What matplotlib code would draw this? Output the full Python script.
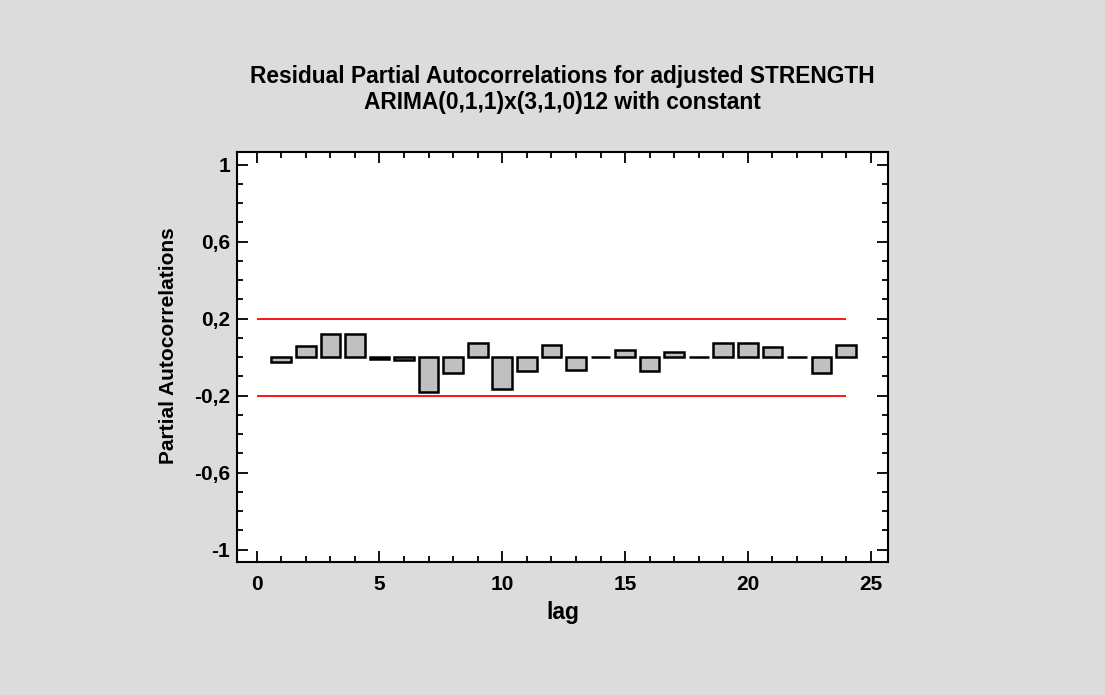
import numpy as np
import matplotlib.pyplot as plt
from matplotlib.ticker import MultipleLocator, FuncFormatter

# residual partial autocorrelations
lags = list(range(1, 25))
pacf = [-0.026, 0.057, 0.12, 0.12, -0.008, -0.015, -0.18, -0.081,
        0.073, -0.163, -0.071, 0.065, -0.064, 0.001, 0.036, -0.073,
        0.029, 0.001, 0.073, 0.073, 0.055, 0.001, -0.081, 0.066]
limite = 0.2  # 95% probability limits

plt.rcParams['font.family'] = ['Liberation Sans', 'DejaVu Sans']
plt.rcParams['font.weight'] = 'bold'

fig = plt.figure(figsize=(11.05, 6.95), dpi=100, facecolor='#dcdcdc')
ax = fig.add_axes([0.2145, 0.191, 0.589, 0.590])
ax.set_facecolor('white')

ax.bar(lags, pacf, width=0.8, color='#c0c0c0', edgecolor='black', linewidth=1.8)
ax.hlines([limite, -limite], 0, 24, colors='#ff0000', linewidth=1.3)

ax.set_xlim(-0.8, 25.7)
ax.set_ylim(-1.065, 1.065)

ax.xaxis.set_major_locator(MultipleLocator(5))
ax.xaxis.set_minor_locator(MultipleLocator(1))
ax.yaxis.set_minor_locator(MultipleLocator(0.1))
ax.set_yticks([-1, -0.6, -0.2, 0.2, 0.6, 1])

def virgula(v, pos):
    s = f'{v:.1f}'.rstrip('0').rstrip('.')
    return s.replace('.', ',')

ax.yaxis.set_major_formatter(FuncFormatter(virgula))

ax.tick_params(which='both', direction='in', top=True, right=True,
               width=1.3, labelsize=15)
ax.tick_params(which='major', length=8)
ax.tick_params(which='minor', length=4)
ax.tick_params(axis='x', which='major', pad=9)
ax.tick_params(axis='y', which='major', pad=5)
for lab in ax.get_xticklabels() + ax.get_yticklabels():
    lab.set_fontweight('bold')
for s in ax.spines.values():
    s.set_linewidth(1.5)

ax.set_title('Residual Partial Autocorrelations for adjusted STRENGTH\n'
             'ARIMA(0,1,1)x(3,1,0)12 with constant',
             fontsize=16.4, fontweight='bold', pad=31, linespacing=1.18)
ax.set_xlabel('lag', fontsize=16.5, fontweight='bold')
ax.set_ylabel('Partial Autocorrelations', fontsize=15, fontweight='bold')
ax.xaxis.set_label_coords(0.5, -0.095)
ax.yaxis.set_label_coords(-0.09, 0.529)

fig.savefig('out.png', dpi=100, facecolor=fig.get_facecolor())
